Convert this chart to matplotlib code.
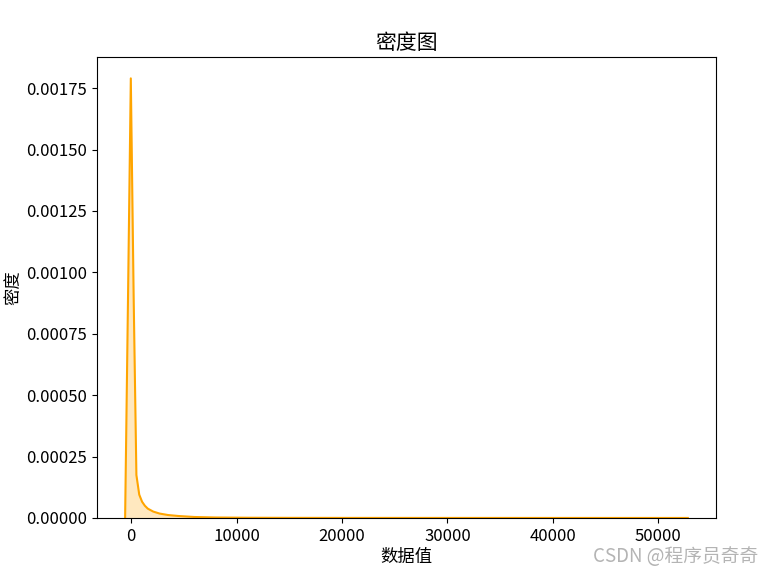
import matplotlib
matplotlib.use('Agg')
import matplotlib.pyplot as plt
import numpy as np

plt.rcParams['font.family'] = ['Noto Sans CJK SC', 'DejaVu Sans']
plt.rcParams['axes.unicode_minus'] = False

# KDE curve (x = data value, y = density)
x_vals = [-570, -300, -30, 240, 500, 770, 1040, 1300, 1580, 2100, 2700,
          3500, 4500, 6000, 8000, 11000, 15000, 20000, 30000, 40000, 52800]
density = [0.0, 0.00088, 0.00179, 0.00090, 0.000175, 0.000095, 0.000066,
           0.000050, 0.000038, 0.000026, 0.000018, 0.000012, 0.000008,
           0.000004, 0.000002, 0.000001, 0.0000005, 0.0000003, 0.0000002,
           0.0000001, 0.00000005]
y_ticks = [0.0, 0.00025, 0.0005, 0.00075, 0.001, 0.00125, 0.0015, 0.00175]

LINE = 'orange'

fig = plt.figure(figsize=(7.74, 5.74), dpi=100)
ax = fig.add_axes([0.1253, 0.0976, 0.7997, 0.8031])

ax.plot(x_vals, density, color=LINE, linewidth=1.5)
ax.fill_between(x_vals, density, color=LINE, alpha=0.25, linewidth=0)
ax.set_ylim(0, 0.001877)

ax.set_title('密度图', fontsize=15)
ax.set_xlabel('数据值', fontsize=12.5, labelpad=2)
ax.set_ylabel('密度', fontsize=12.5, labelpad=3)
ax.tick_params(labelsize=12)
ax.set_xticks([0, 10000, 20000, 30000, 40000, 50000])
ax.set_yticks(y_ticks)
ax.set_yticklabels([f'{v:.5f}' for v in y_ticks])

fig.text(0.98, 0.021, 'CSDN @程序员奇奇', ha='right', va='baseline',
         fontsize=13.5, color='#b4b4b4')

fig.savefig('out.png', dpi=100)
